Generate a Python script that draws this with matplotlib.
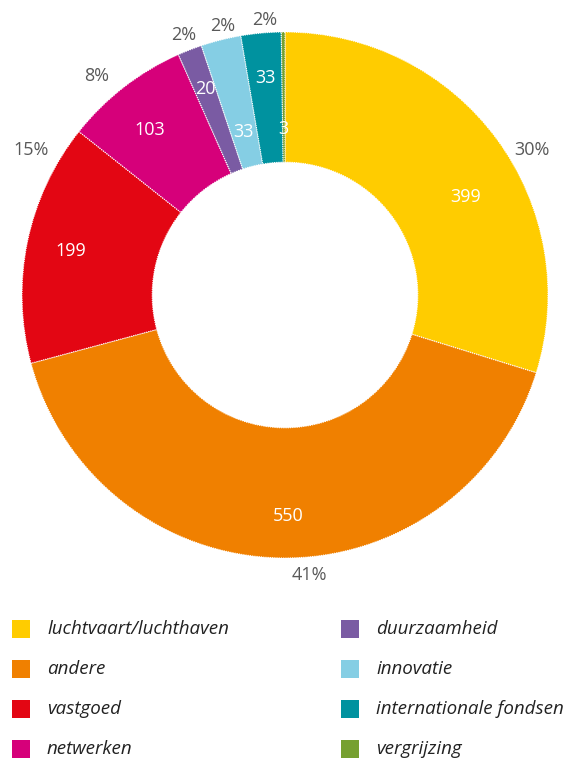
import matplotlib
matplotlib.use("Agg")
import matplotlib.pyplot as plt
import numpy as np
from matplotlib.patches import Rectangle

plt.rcParams['font.family'] = ['Open Sans', 'DejaVu Sans']

# data
categories = ['luchtvaart/luchthaven', 'andere', 'vastgoed', 'netwerken',
              'duurzaamheid', 'innovatie', 'internationale fondsen', 'vergrijzing']
values = [399, 550, 199, 103, 20, 33, 33, 3]
pct_labels = ['30%', '41%', '15%', '8%', '2%', '2%', '2%', '']
colors = ['#FFCC00', '#F08000', '#E30613', '#D6007A',
          '#7A5BA3', '#85CEE4', '#00929F', '#76A030']

# label placement tweaks (style, not data)
val_radius = [0.78, 0.84, 0.83, 0.81, 0.84, 0.64, 0.83, 0.63]
val_nudge = [8, -2, 0, -1.5, 0, 0, 0, 0]  # degrees, clockwise
pct_radius = [1.09, 1.07, 1.11, 1.10, 1.06, 1.05, 1.05, 1.05]
pct_nudge = [6, -6, 18, -3, 0, 1, 1, 0]   # degrees, clockwise

W, H = 568, 760
fig = plt.figure(figsize=(W / 100, H / 100), dpi=100)

# donut axes: centre (285, 295) px, outer radius 263 px
cx, cy, R = 285, 295, 263
ax = fig.add_axes([(cx - R) / W, (H - cy - R) / H, 2 * R / W, 2 * R / H])

wedges, _ = ax.pie(values, colors=colors, startangle=90, counterclock=False,
                   radius=1.0, wedgeprops=dict(width=0.495, edgecolor='white',
                                               linewidth=0.8, linestyle=(0, (1, 1))))
ax.set_xlim(-1, 1)
ax.set_ylim(-1, 1)
ax.set_aspect('equal')
ax.axis('off')
for w in wedges:
    w.set_clip_on(False)

total = float(sum(values))
start = 90.0
for i, v in enumerate(values):
    span = 360.0 * v / total
    mid = start - span / 2
    start -= span
    a = np.deg2rad(mid - val_nudge[i])
    ax.text(val_radius[i] * np.cos(a), val_radius[i] * np.sin(a), str(v),
            ha='center', va='center', color='white', fontsize=13, clip_on=False)
    if pct_labels[i]:
        b = np.deg2rad(mid - pct_nudge[i])
        ax.text(pct_radius[i] * np.cos(b), pct_radius[i] * np.sin(b), pct_labels[i],
                ha='center', va='center', color='#595959', fontsize=13, clip_on=False)

# legend in pixel coordinates
lax = fig.add_axes([0, 0, 1, 1])
lax.set_xlim(0, W)
lax.set_ylim(H, 0)
lax.axis('off')
col_x = [12, 341]
for i, (name, c) in enumerate(zip(categories, colors)):
    col, row = divmod(i, 4)
    yc = 629 + row * 40
    lax.add_patch(Rectangle((col_x[col], yc - 9), 18, 18, facecolor=c, edgecolor='none'))
    lax.text(col_x[col] + 35, yc, name, ha='left', va='center', style='italic',
             fontsize=13.5, color='#222222')

fig.savefig('out.png', dpi=100)
